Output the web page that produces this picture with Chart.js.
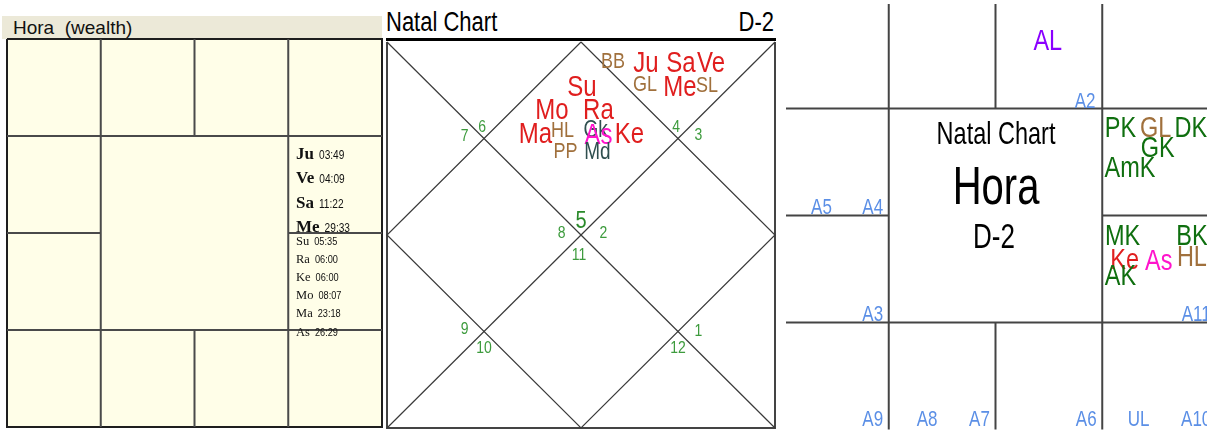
<!DOCTYPE html>
<html>
<head>
<meta charset="utf-8">
<title>Hora D-2</title>
<script src="https://cdn.jsdelivr.net/npm/chart.js@4.4.0/dist/chart.umd.min.js"></script>
<style>
  html, body { margin: 0; padding: 0; background: #fff; }
  body { width: 1212px; height: 430px; position: relative; overflow: hidden; font-family: "Liberation Sans", Arial, sans-serif; }
  canvas { position: absolute; display: block; }
  #horaHead { position: absolute; left: 2px; top: 16px; width: 380px; height: 23px; background: #ece9d8; font-size: 19px; line-height: 23px; color: #111; padding-left: 11px; box-sizing: border-box; white-space: pre; }
  #natalHead { position: absolute; left: 386px; top: 11px; width: 388px; height: 22px; font-size: 22px; line-height: 22px; color: #000; display: flex; justify-content: space-between; transform: scaleY(1.24); }
  #natalRule { position: absolute; left: 386px; top: 38px; width: 390px; height: 3px; background: #000; }
  #rightWrap { position: absolute; left: 786px; top: 4px; width: 421px; height: 426px; overflow: hidden; }
</style>
</head>
<body>
<div id="horaHead">Hora  (wealth)</div>
<canvas id="horaChart" width="384" height="430" style="left:0;top:0"></canvas>

<div id="natalHead"><span>Natal Chart</span><span>D-2</span></div>
<div id="natalRule"></div>
<canvas id="natalChart" width="396" height="430" style="left:384px;top:0"></canvas>

<div id="rightWrap">
  <canvas id="karakaChart" width="432" height="434" style="left:-6px;top:-4px"></canvas>
</div>

<script>
// ---- Hora (wealth) list ----
var horaBigNames = ['Ju', 'Ve', 'Sa', 'Me'];
var horaBigDegs = ['03:49', '04:09', '11:22', '29:33'];
var horaSmallNames = ['Su', 'Ra', 'Ke', 'Mo', 'Ma', 'As'];
var horaSmallDegs = ['05:35', '06:00', '06:00', '08:07', '23:18', '26:29'];

// ---- D-2 natal chart (diamond), positions in chart units 0..4 ----
var houseNums = ['7', '6', '4', '3', '5', '8', '2', '11', '9', '10', '1', '12'];
var houseX = [0.80, 0.98, 2.98, 3.21, 2.00, 1.80, 2.23, 1.98, 0.80, 1.00, 3.21, 3.00];
var houseY = [0.98, 0.88, 0.88, 0.97, 1.86, 1.98, 1.98, 2.21, 2.98, 3.17, 3.00, 3.17];

var planets = ['BB', 'Ju', 'Sa', 'Ve', 'GL', 'Me', 'SL', 'Su', 'Mo', 'Ra', 'Ma', 'HL', 'Gk', 'As', 'Ke', 'PP', 'Md'];
var planetKind = ['lagna', 'graha', 'graha', 'graha', 'lagna', 'graha', 'lagna', 'graha', 'graha', 'graha', 'graha', 'lagna', 'upa', 'asc', 'graha', 'lagna', 'upa'];
var planetX = [2.33, 2.67, 3.03, 3.34, 2.66, 3.02, 3.30, 2.01, 1.70, 2.18, 1.53, 1.81, 2.15, 2.18, 2.50, 1.84, 2.17];
var planetY = [0.20, 0.23, 0.22, 0.22, 0.44, 0.47, 0.45, 0.47, 0.71, 0.71, 0.96, 0.92, 0.92, 0.97, 0.96, 1.14, 1.14];

// ---- karaka / arudha chart (square grid), positions in grid units 0..4 ----
var karakas = ['PK', 'GL', 'DK', 'GK', 'AmK', 'MK', 'BK', 'Ke', 'As', 'HL', 'AK', 'AL'];
var karakaKind = ['karaka', 'lagna', 'karaka', 'karaka', 'karaka', 'karaka', 'karaka', 'graha', 'asc', 'lagna', 'karaka', 'arudhaLagna'];
var karakaX = [3.17, 3.50, 3.83, 3.52, 3.26, 3.19, 3.84, 3.21, 3.53, 3.84, 3.17, 2.49];
var karakaY = [1.19, 1.19, 1.19, 1.38, 1.56, 2.20, 2.20, 2.42, 2.43, 2.39, 2.57, 0.38];

var arudhas = ['A2', 'A5', 'A4', 'A3', 'A11', 'A9', 'A8', 'A7', 'A6', 'UL', 'A10'];
var arudhaX = [2.84, 0.37, 0.85, 0.85, 3.88, 0.85, 1.36, 1.85, 2.85, 3.34, 3.88];
var arudhaY = [0.94, 1.93, 1.93, 2.93, 2.93, 3.91, 3.91, 3.91, 3.91, 3.91, 3.91];

var centreTitle = ['Natal Chart', 'Hora', 'D-2'];

// colours
var kindColor = {
    graha: '#e01e1e', lagna: '#a0703c', upa: '#2f4f4f', asc: '#ff14cc',
    karaka: '#0f6f0f', arudhaLagna: '#8a00ff'
};
var SANS = '"Liberation Sans", Arial, sans-serif';
var SERIF = '"Liberation Serif", "Times New Roman", serif';

// grid segments of the square chart [x1, y1, x2, y2]
var squareLines = [[1, 0, 1, 4], [3, 0, 3, 4], [2, 0, 2, 1], [2, 3, 2, 4],
                   [0, 1, 4, 1], [0, 3, 4, 3], [0, 2, 1, 2], [3, 2, 4, 2]];

function seg(points, color, width) {
    return {
        data: points, showLine: true, pointRadius: 0, borderColor: color,
        borderWidth: width, tension: 0, clip: false, fill: false
    };
}

function textLayer(items, bg) {
    return {
        id: 'textLayer',
        beforeDatasetsDraw: function (chart) {
            if (!bg) return;
            var a = chart.chartArea, ctx = chart.ctx;
            ctx.save();
            ctx.fillStyle = bg;
            ctx.fillRect(a.left, a.top, a.right - a.left, a.bottom - a.top);
            ctx.restore();
        },
        afterDatasetsDraw: function (chart) {
            var ctx = chart.ctx, sx = chart.scales.x, sy = chart.scales.y;
            items.forEach(function (t) {
                ctx.save();
                ctx.translate(sx.getPixelForValue(t.x), sy.getPixelForValue(t.y));
                if (t.parts) {
                    // name + degree drawn side by side
                    var dx = 0;
                    t.parts.forEach(function (p) {
                        ctx.save();
                        ctx.translate(dx, 0);
                        ctx.scale(p.sx || 1, 1);
                        ctx.font = p.font;
                        ctx.fillStyle = p.color;
                        ctx.textAlign = 'left';
                        ctx.textBaseline = 'alphabetic';
                        ctx.fillText(p.text, 0, 0);
                        dx += ctx.measureText(p.text).width * (p.sx || 1) + (p.gap || 0);
                        ctx.restore();
                    });
                } else {
                    ctx.scale(1, t.sy || 1);
                    ctx.font = t.font;
                    ctx.fillStyle = t.color;
                    ctx.textAlign = t.align || 'center';
                    ctx.textBaseline = 'middle';
                    ctx.fillText(t.text, 0, 0);
                }
                ctx.restore();
            });
        }
    };
}

function baseOptions(pad, xr, yr) {
    return {
        responsive: false, maintainAspectRatio: false, animation: false, devicePixelRatio: 1,
        events: [],
        layout: { padding: pad },
        plugins: { legend: { display: false }, tooltip: { enabled: false } },
        scales: {
            x: { type: 'linear', min: xr[0], max: xr[1], display: false },
            y: { type: 'linear', min: yr[0], max: yr[1], reverse: true, display: false }
        }
    };
}

// ---------- left: Hora (wealth) ----------
var horaItems = [];
for (var i in horaBigNames) {
    horaItems.push({
        x: 3.083, y: 1.237 + i * 0.2526,
        parts: [
            { text: horaBigNames[i], font: 'bold 17px ' + SERIF, color: '#111', gap: 5 },
            { text: horaBigDegs[i], font: '13px ' + SANS, color: '#111', sx: 0.78 }
        ]
    });
}
for (var j in horaSmallNames) {
    horaItems.push({
        x: 3.083, y: 2.119 + j * 0.1876,
        parts: [
            { text: horaSmallNames[j], font: '12.5px ' + SERIF, color: '#111', gap: 5 },
            { text: horaSmallDegs[j], font: '11.5px ' + SANS, color: '#111', sx: 0.8 }
        ]
    });
}
var horaSets = squareLines.map(function (s) {
    return seg([{ x: s[0], y: s[1] }, { x: s[2], y: s[3] }], '#4a4a4a', 2);
});
horaSets.push(seg([{ x: 0, y: 0 }, { x: 4, y: 0 }, { x: 4, y: 4 }, { x: 0, y: 4 }, { x: 0, y: 0 }], '#1e1e1e', 2));

new Chart(document.getElementById('horaChart'), {
    type: 'scatter',
    data: { datasets: horaSets },
    options: baseOptions({ left: 7, right: 2, top: 39, bottom: 3 }, [0, 4], [0, 4]),
    plugins: [textLayer(horaItems, '#fffee8')]
});

// ---------- middle: natal chart D-2 ----------
var natalItems = [];
for (var h in houseNums) {
    var big = houseNums[h] === '5';
    natalItems.push({
        x: houseX[h], y: houseY[h], text: houseNums[h], sy: 1.2,
        font: (big ? '20px ' : '14px ') + SANS, color: big ? '#2a8a2a' : '#3d9b3d'
    });
}
for (var p in planets) {
    var k = planetKind[p];
    var size = (k === 'graha' || k === 'asc') ? 24 : (k === 'upa' ? 19 : 18);
    natalItems.push({
        x: planetX[p], y: planetY[p], text: planets[p], sy: 1.25,
        font: size + 'px ' + SANS, color: kindColor[k]
    });
}
var natalSets = [
    seg([{ x: 0, y: 0 }, { x: 4, y: 4 }], '#3a3a3a', 1.2),
    seg([{ x: 4, y: 0 }, { x: 0, y: 4 }], '#3a3a3a', 1.2),
    seg([{ x: 2, y: 0 }, { x: 4, y: 2 }, { x: 2, y: 4 }, { x: 0, y: 2 }, { x: 2, y: 0 }], '#3a3a3a', 1.2),
    seg([{ x: 0, y: 0 }, { x: 0, y: 4 }, { x: 4, y: 4 }, { x: 4, y: 0 }], '#444', 2)
];

new Chart(document.getElementById('natalChart'), {
    type: 'scatter',
    data: { datasets: natalSets },
    options: baseOptions({ left: 3, right: 5, top: 42, bottom: 2 }, [0, 4], [0, 4]),
    plugins: [textLayer(natalItems, null)]
});

// ---------- right: karakas / arudhas ----------
var karakaItems = [
    { x: 2.005, y: 1.248, text: centreTitle[0], font: '23.5px ' + SANS, color: '#000', sy: 1.33 },
    { x: 2.005, y: 1.752, text: centreTitle[1], font: '40px ' + SANS, color: '#000', sy: 1.33 },
    { x: 1.986, y: 2.215, text: centreTitle[2], font: '26px ' + SANS, color: '#000', sy: 1.35 }
];
for (var a in arudhas) {
    karakaItems.push({
        x: arudhaX[a], y: arudhaY[a], text: arudhas[a], sy: 1.3,
        font: '17px ' + SANS, color: '#5b8fe6'
    });
}
for (var q in karakas) {
    karakaItems.push({
        x: karakaX[q], y: karakaY[q], text: karakas[q], sy: 1.28,
        font: '23.5px ' + SANS, color: kindColor[karakaKind[q]]
    });
}
var karakaSets = squareLines.map(function (s) {
    return seg([{ x: s[0], y: s[1] }, { x: s[2], y: s[3] }], '#444', 2);
});

new Chart(document.getElementById('karakaChart'), {
    type: 'scatter',
    data: { datasets: karakaSets },
    options: baseOptions({ left: 2, right: 3, top: 1.5, bottom: 4.5 }, [0, 4], [0, 4]),
    plugins: [textLayer(karakaItems, null)]
});
</script>
</body>
</html>
